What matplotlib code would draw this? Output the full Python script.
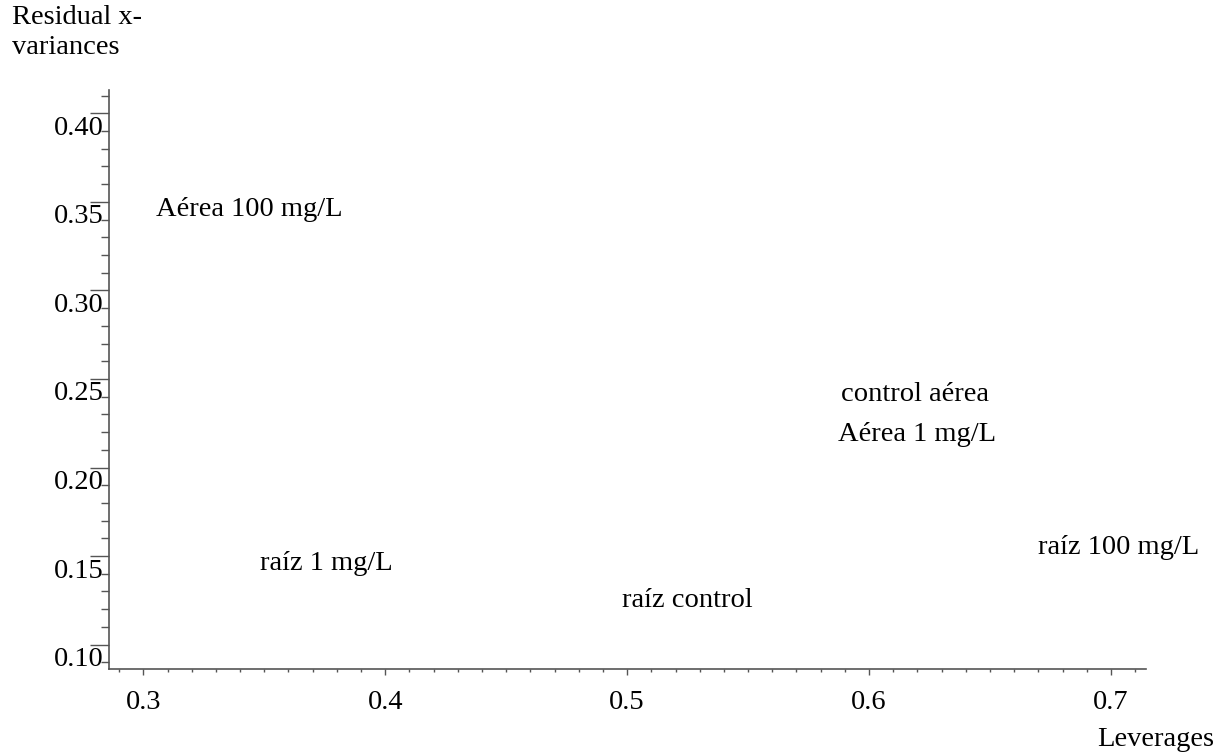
import matplotlib
matplotlib.use("Agg")
import matplotlib.pyplot as plt
import matplotlib.transforms as mtransforms
from matplotlib.ticker import MultipleLocator

# Sample labels and their (leverage, residual x-variance) coordinates
names = ["Aérea 100 mg/L", "control aérea", "Aérea 1 mg/L",
         "raíz 100 mg/L", "raíz 1 mg/L", "raíz control"]
leverages = [0.344, 0.619, 0.620, 0.703, 0.3757, 0.5247]
residual_var = [0.3455, 0.2414, 0.2188, 0.155, 0.1459, 0.1249]

xticks = [0.3, 0.4, 0.5, 0.6, 0.7]
yticks = [0.10, 0.15, 0.20, 0.25, 0.30, 0.35, 0.40]
ytick_labels = ["0.10", "0.15", "0.20", "0.25", "0.30", "0.35", "0.40"]

plt.rcParams["font.family"] = ["Liberation Serif", "DejaVu Serif"]
W, H, DPI = 1220, 752, 100
FS = 20.5
fig = plt.figure(figsize=(W / DPI, H / DPI), dpi=DPI)

x0, x1 = 109 / W, 1146 / W
y0, y1 = 1 - 669 / H, 1 - 90 / H
ax = fig.add_axes([x0, y0, x1 - x0, y1 - y0])

ax.set_xlim(0.2858, 0.7145)
ax.set_ylim(0.0862, 0.4132)

axis_color = "#555555"
for side in ("top", "right"):
    ax.spines[side].set_visible(False)
for side in ("left", "bottom"):
    ax.spines[side].set_color(axis_color)
    ax.spines[side].set_linewidth(1.2)

for name, lx, ly in zip(names, leverages, residual_var):
    ax.text(lx, ly, name, ha="center", va="center", fontsize=FS, color="black")

ax.set_xticks(xticks)
ax.set_xticklabels([f"{t:.1f}" for t in xticks])
ax.set_yticks(yticks)
ax.set_yticklabels(ytick_labels)
ax.xaxis.set_minor_locator(MultipleLocator(0.01))
ax.yaxis.set_minor_locator(MultipleLocator(0.01))

ax.tick_params(axis="x", which="major", direction="out", length=4, width=1,
               color=axis_color, labelsize=FS, pad=11)
ax.tick_params(axis="x", which="minor", direction="out", length=2, width=1,
               color=axis_color)
ax.tick_params(axis="y", which="major", direction="out", length=14, width=1,
               color=axis_color, labelsize=FS, pad=-10)
ax.tick_params(axis="y", which="minor", direction="out", length=6, width=1,
               color=axis_color)

# y tick labels sit just below their tick marks
shift = mtransforms.ScaledTranslation(0, -12 / DPI, fig.dpi_scale_trans)
for lbl in ax.get_yticklabels():
    lbl.set_transform(lbl.get_transform() + shift)

fig.text(12 / W, 1 - 18 / H, "Residual x-", ha="left", va="center", fontsize=FS)
fig.text(12 / W, 1 - 48 / H, "variances", ha="left", va="center", fontsize=FS)
fig.text(1214 / W, 1 - 739 / H, "Leverages", ha="right", va="center", fontsize=FS)

fig.savefig("out.png", dpi=DPI)
